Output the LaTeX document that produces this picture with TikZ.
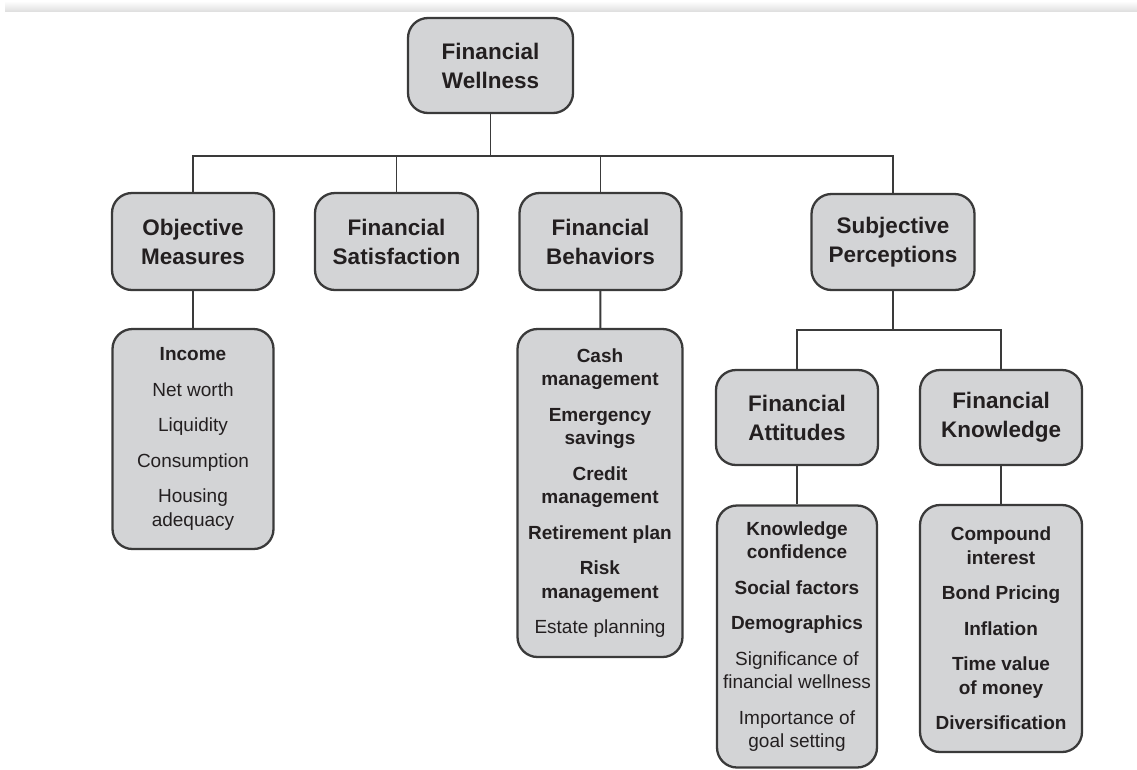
\documentclass[tikz,border=0pt]{standalone}
\usepackage{fontspec}
\setmainfont{Liberation Sans}
\definecolor{boxfill}{HTML}{D3D4D6}
\definecolor{boxline}{HTML}{3A3A3A}
\definecolor{inktext}{HTML}{231F20}

\begin{document}
\begin{tikzpicture}[x=1pt, y=-1pt,
    category/.style ={draw=boxline, line width=2.3pt, fill=boxfill, rounded corners=20pt,
        inner sep=0pt, align=center, text=inktext,
        font=\fontsize{22.5}{29}\selectfont\bfseries},
    itemlist/.style ={draw=boxline, line width=2.3pt, fill=boxfill, rounded corners=20pt,
        inner sep=0pt, align=center, text=inktext,
        font=\fontsize{19}{23.5}\selectfont},
    link/.style ={draw=boxline, line width=1.9pt}]
   \useasboundingbox (0,0) rectangle (1137,769);
   \shade[top color=white, bottom color=black!12] (5,1) rectangle (1137,11);

   % top level
   \node[category, minimum width=165pt, minimum height=95pt] (W) at (490.5,65.5) {Financial\\Wellness};

   % second level
   \node[category, minimum width=162pt, minimum height=97pt] (O) at (193,241.5) {Objective\\Measures};
   \node[category, minimum width=163pt, minimum height=97pt] (F) at (396.5,241.5) {Financial\\Satisfaction};
   \node[category, minimum width=162pt, minimum height=97pt] (B) at (600.5,241.5) {Financial\\Behaviors};
   \node[category, minimum width=163pt, minimum height=96pt] (S) at (893,242) {Subjective\\Perceptions};

   % third level
   \node[category, minimum width=162pt, minimum height=95pt] (A) at (797,417.5) {Financial\\Attitudes};
   \node[category, minimum width=162pt, minimum height=95pt] (K) at (1001,417.5) {Financial\\Knowledge};

   % lists
   \node[itemlist, minimum width=161pt, minimum height=220pt] (OL) at (193,439)
     {\textbf{Income}\\[12pt] Net worth\\[12pt] Liquidity\\[12pt] Consumption\\[12pt] Housing\\adequacy};
   \node[itemlist, minimum width=165pt, minimum height=328pt] (BL) at (600,493)
     {\textbf{Cash}\\\textbf{management}\\[12pt] \textbf{Emergency}\\\textbf{savings}\\[12pt]
      \textbf{Credit}\\\textbf{management}\\[12pt] \textbf{Retirement plan}\\[12pt]
      \textbf{Risk}\\\textbf{management}\\[12pt] Estate planning};
   \node[itemlist, minimum width=160pt, minimum height=262pt] (AL) at (797,636.5)
     {\textbf{Knowledge}\\\textbf{confidence}\\[12pt] \textbf{Social factors}\\[12pt]
      \textbf{Demographics}\\[12pt] Significance of\\financial wellness\\[12pt]
      Importance of\\goal setting};
   \node[itemlist, minimum width=162pt, minimum height=247pt] (KL) at (1001,628.5)
     {\textbf{Compound}\\\textbf{interest}\\[12pt] \textbf{Bond Pricing}\\[12pt]
      \textbf{Inflation}\\[12pt] \textbf{Time value}\\\textbf{of money}\\[12pt]
      \textbf{Diversification}};

   % connectors
   \draw[link] (W.south) -- ++(0,42) -| (O.north);
   \draw[link] (W.south) -- ++(0,42) -| (F.north);
   \draw[link] (W.south) -- ++(0,42) -| (B.north);
   \draw[link] (W.south) -- ++(0,42) -| (S.north);
   \draw[link] (S.south) -- ++(0,39) -| (A.north);
   \draw[link] (S.south) -- ++(0,39) -| (K.north);
   \draw[link] (O) -- (OL);
   \draw[link] (B) -- (BL);
   \draw[link] (A) -- (AL);
   \draw[link] (K) -- (KL);
 \end{tikzpicture}
\end{document}
